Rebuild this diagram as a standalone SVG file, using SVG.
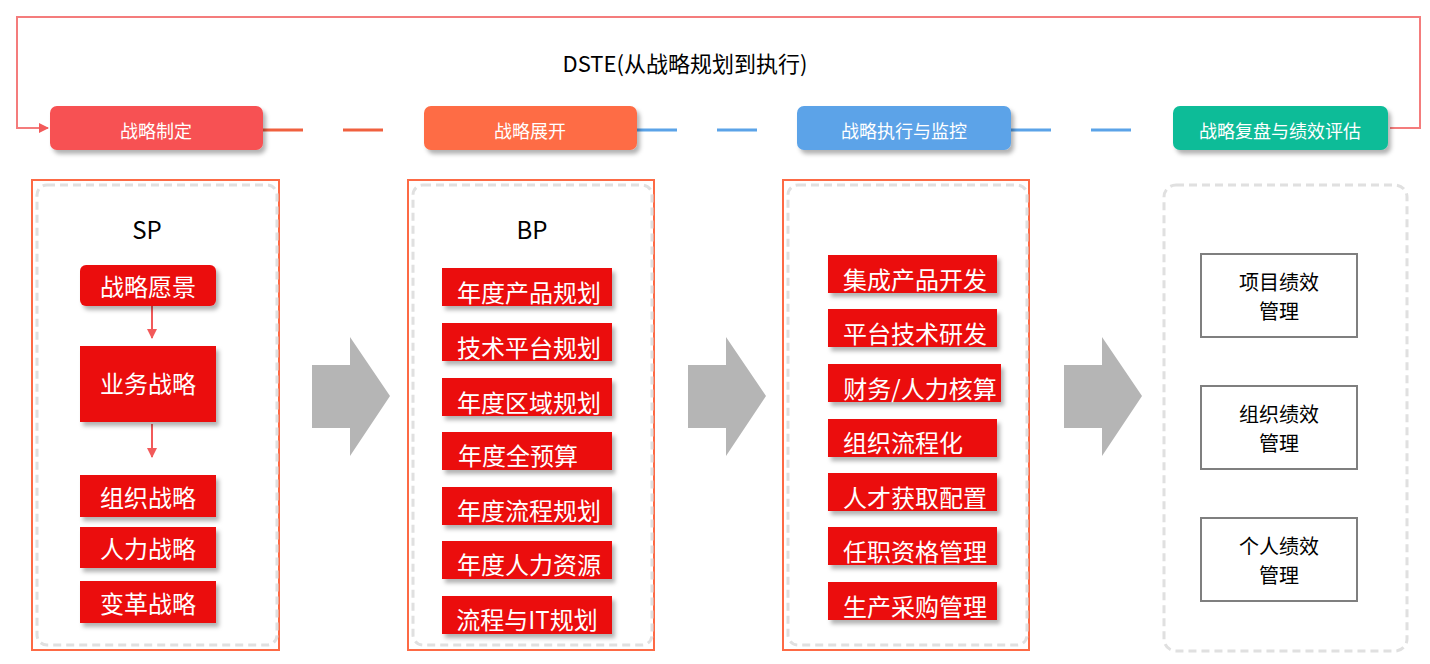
<svg xmlns="http://www.w3.org/2000/svg" width="1430" height="664" viewBox="0 0 1430 664">
<defs>
<style>
text{font-family:"Noto Sans CJK SC","Noto Sans",sans-serif;text-anchor:middle}
.h{fill:#fff;font-size:18px}
.r{fill:#eb0a0b}
.w{fill:#fff;font-size:24px}
.k{fill:#000;font-size:20px}
.panel{fill:none;stroke:#fd6a45;stroke-width:2}
.dash{fill:none;stroke:#e0e0e0;stroke-width:3;stroke-dasharray:8 5}
.gb{fill:#fff;stroke:#7f7f7f;stroke-width:2}
.arr{fill:#b5b5b5}
</style>
<filter id="sh" x="-10%" y="-10%" width="130%" height="140%"><feDropShadow dx="3" dy="4" stdDeviation="2" flood-color="#000" flood-opacity="0.3"/></filter>
<marker id="ma" markerWidth="10" markerHeight="10" refX="9" refY="5" orient="auto" markerUnits="userSpaceOnUse"><path d="M0,0 L10,5 L0,10 Z" fill="#f25a5a"/></marker>
</defs>
<g id="connectors">
<path d="M1390,128 H1420 V17 H17 V128 H48" fill="none" stroke="#f47c7c" stroke-width="2" marker-end="url(#ma)"/>
<path d="M263,130 H383" stroke="#f0603f" stroke-width="3" stroke-dasharray="40 40"/>
<path d="M637,130 H757" stroke="#5ba3e8" stroke-width="3" stroke-dasharray="40 40"/>
<path d="M1011,130 H1131" stroke="#5ba3e8" stroke-width="3" stroke-dasharray="40 40"/>
<path d="M152,306 V338" stroke="#f25a5a" stroke-width="2" marker-end="url(#ma)"/>
<path d="M152,424 V457" stroke="#f25a5a" stroke-width="2" marker-end="url(#ma)"/>
<polygon class="arr" points="312,365 350,365 350,337 390,396 350,456 350,428 312,428"/>
<polygon class="arr" points="688,365 726,365 726,337 766,396 726,456 726,428 688,428"/>
<polygon class="arr" points="1064,365 1102,365 1102,337 1142,396 1102,456 1102,428 1064,428"/>
</g>
<text x="685" y="72" style="font-size:22px;fill:#000">DSTE(从战略规划到执行)</text>
<g id="h1"><rect x="50" y="106" width="213" height="44" rx="7" fill="#f75152" filter="url(#sh)"/><text class="h" x="156" y="138">战略制定</text></g>
<g id="h2"><rect x="424" y="106" width="213" height="44" rx="7" fill="#fe6c44" filter="url(#sh)"/><text class="h" x="530" y="138">战略展开</text></g>
<g id="h3"><rect x="797" y="106" width="214" height="44" rx="7" fill="#5ba3e8" filter="url(#sh)"/><text class="h" x="904" y="138">战略执行与监控</text></g>
<g id="h4"><rect x="1173" y="106" width="215" height="44" rx="7" fill="#08bc98" filter="url(#sh)"/><text class="h" x="1280" y="138">战略复盘与绩效评估</text></g>
<g id="p1">
<rect class="panel" x="32" y="180" width="247" height="470"/>
<rect class="dash" x="37" y="185" width="240" height="460" rx="10"/>
<text x="147" y="239" style="font-size:24px;fill:#000">SP</text>
<g filter="url(#sh)">
<rect class="r" x="80" y="265" width="136" height="41" rx="6"/>
<rect class="r" x="80" y="346" width="136" height="76"/>
<rect class="r" x="80" y="475" width="136" height="42"/>
<rect class="r" x="80" y="527" width="136" height="41"/>
<rect class="r" x="80" y="581" width="136" height="42"/>
</g>
<text class="w" x="148" y="296">战略愿景</text>
<text class="w" x="148" y="393">业务战略</text>
<text class="w" x="148" y="507">组织战略</text>
<text class="w" x="148" y="558">人力战略</text>
<text class="w" x="148" y="613">变革战略</text>
</g>
<g id="p2">
<rect class="panel" x="408" y="180" width="246" height="470"/>
<rect class="dash" x="413" y="185" width="239" height="460" rx="10"/>
<text x="532" y="239" style="font-size:24px;fill:#000">BP</text>
<g filter="url(#sh)">
<rect class="r" x="442" y="268" width="170" height="38"/>
<rect class="r" x="442" y="323" width="170" height="38"/>
<rect class="r" x="442" y="378" width="170" height="38"/>
<rect class="r" x="442" y="432" width="170" height="38"/>
<rect class="r" x="442" y="487" width="170" height="38"/>
<rect class="r" x="442" y="541" width="170" height="38"/>
<rect class="r" x="442" y="596" width="170" height="38"/>
</g>
<text class="w" x="529" y="302">年度产品规划</text>
<text class="w" x="529" y="357">技术平台规划</text>
<text class="w" x="529" y="412">年度区域规划</text>
<text class="w" x="518" y="465">年度全预算</text>
<text class="w" x="529" y="520">年度流程规划</text>
<text class="w" x="529" y="574">年度人力资源</text>
<text class="w" x="527" y="629">流程与IT规划</text>
</g>
<g id="p3">
<rect class="panel" x="783" y="180" width="246" height="470"/>
<rect class="dash" x="788" y="185" width="239" height="460" rx="10"/>
<g filter="url(#sh)">
<rect class="r" x="828" y="255" width="169" height="38"/>
<rect class="r" x="828" y="309" width="169" height="38"/>
<rect class="r" x="828" y="364" width="173" height="38"/>
<rect class="r" x="828" y="419" width="169" height="38"/>
<rect class="r" x="828" y="473" width="169" height="38"/>
<rect class="r" x="828" y="527" width="169" height="38"/>
<rect class="r" x="828" y="582" width="169" height="38"/>
</g>
<text class="w" x="915" y="289">集成产品开发</text>
<text class="w" x="915" y="343">平台技术研发</text>
<text class="w" x="920" y="398">财务/人力核算</text>
<text class="w" x="903" y="452">组织流程化</text>
<text class="w" x="915" y="507">人才获取配置</text>
<text class="w" x="915" y="561">任职资格管理</text>
<text class="w" x="915" y="616">生产采购管理</text>
</g>
<g id="p4">
<rect class="dash" x="1164" y="185" width="243" height="466" rx="12"/>
<rect class="gb" x="1201" y="254" width="156" height="83"/>
<text class="k" x="1279" y="290">项目绩效</text><text class="k" x="1279" y="319">管理</text>
<rect class="gb" x="1201" y="386" width="156" height="83"/>
<text class="k" x="1279" y="422">组织绩效</text><text class="k" x="1279" y="451">管理</text>
<rect class="gb" x="1201" y="518" width="156" height="83"/>
<text class="k" x="1279" y="554">个人绩效</text><text class="k" x="1279" y="583">管理</text>
</g>
</svg>
